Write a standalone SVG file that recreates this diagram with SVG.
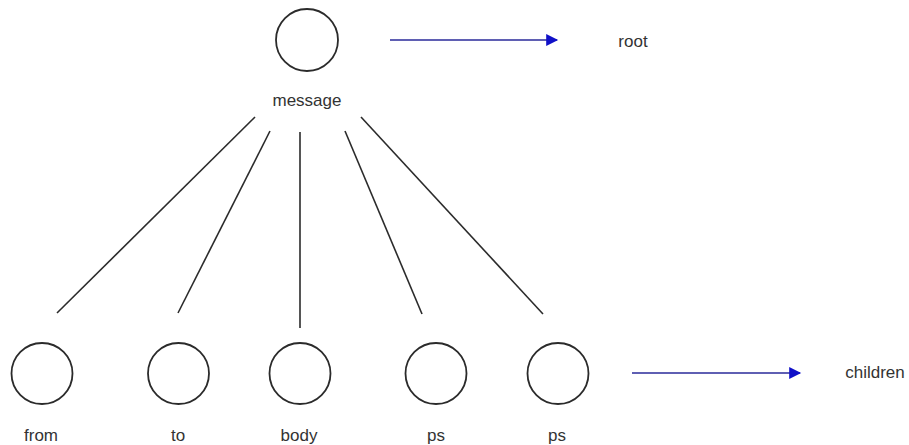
<svg xmlns="http://www.w3.org/2000/svg" width="909" height="445" viewBox="0 0 909 445">
  <style>
    .node circle { fill: #ffffff; stroke: #2b2b2b; stroke-width: 1.8; }
    .label { font-family: "Liberation Sans", Arial, sans-serif; font-size: 17px; fill: #333333; text-anchor: middle; }
    .edge { stroke: #2b2b2b; stroke-width: 1.6; fill: none; }
    .pointer { stroke: #2a2a9a; stroke-width: 1.6; fill: none; marker-end: url(#head); }
  </style>
  <defs>
    <marker id="head" viewBox="0 0 10 10" refX="9" refY="5" markerUnits="userSpaceOnUse" markerWidth="14" markerHeight="12" orient="auto">
      <path d="M0,0 L10,5 L0,10 Z" fill="#1010c8"/>
    </marker>
  </defs>
  <rect width="909" height="445" fill="#ffffff"/>

  <!-- tree edges -->
  <g id="connectors">
    <line class="edge" x1="255" y1="117" x2="57" y2="313"/>
    <line class="edge" x1="270" y1="131" x2="178" y2="313"/>
    <line class="edge" x1="300" y1="132" x2="300" y2="328"/>
    <line class="edge" x1="345" y1="131" x2="422" y2="314"/>
    <line class="edge" x1="361" y1="117" x2="543" y2="314"/>
    <line class="pointer" x1="390" y1="40" x2="557" y2="40"/>
    <line class="pointer" x1="632" y1="373" x2="800" y2="373"/>
  </g>

  <g id="message" class="node">
    <circle cx="307" cy="40" r="31"/>
    <text class="label" x="307" y="106">message</text>
  </g>
  <g id="from" class="node">
    <circle cx="42" cy="373.5" r="30.5"/>
    <text class="label" x="41" y="441">from</text>
  </g>
  <g id="to" class="node">
    <circle cx="178.5" cy="373.5" r="30.5"/>
    <text class="label" x="178" y="441">to</text>
  </g>
  <g id="body" class="node">
    <circle cx="300" cy="373.5" r="30.5"/>
    <text class="label" x="299" y="441">body</text>
  </g>
  <g id="ps1" class="node">
    <circle cx="436" cy="373.5" r="30.5"/>
    <text class="label" x="436" y="441">ps</text>
  </g>
  <g id="ps2" class="node">
    <circle cx="558" cy="373.5" r="30.5"/>
    <text class="label" x="557" y="441">ps</text>
  </g>

  <g id="legend-root">
    <text class="label" x="633" y="47">root</text>
  </g>
  <g id="legend-children">
    <text class="label" x="875" y="378">children</text>
  </g>
</svg>
